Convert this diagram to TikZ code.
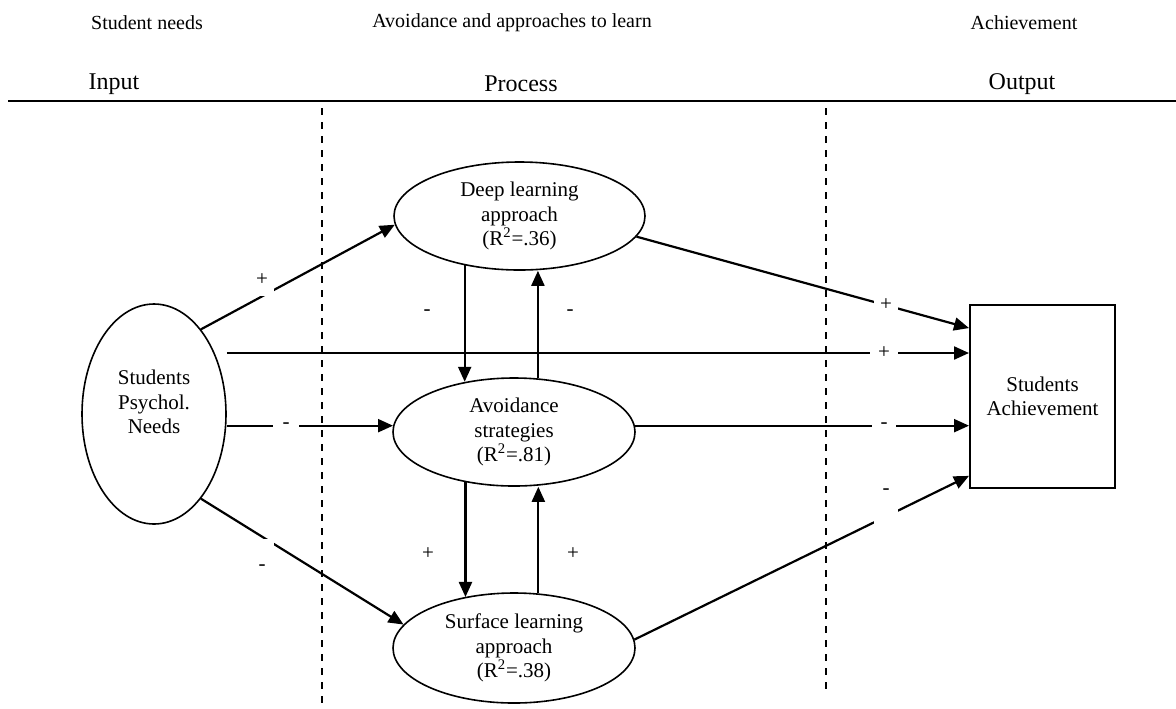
\documentclass[tikz,border=0pt]{standalone}
\usepackage{fontspec}
\setmainfont{Liberation Serif}
\usetikzlibrary{arrows.meta,positioning,calc,shapes.geometric}

\begin{document}
\begin{tikzpicture}[x=0.5pt,y=-0.5pt,
  conc/.style={ellipse,draw,line width=0.8pt,inner sep=0pt,align=center,font=\fontsize{10.5}{12.2}\selectfont},
  outbox/.style={rectangle,draw,line width=1pt,inner sep=0pt,align=center,font=\fontsize{10.5}{12.2}\selectfont,minimum width=72.5pt,minimum height=91.5pt},
  arr/.style={-{Triangle[length=7.5pt,width=6.5pt]},line width=1.1pt},
  sign/.style={fill=white,inner sep=1.5pt,minimum width=12pt,font=\fontsize{10.5}{12}\selectfont},
  head/.style={font=\fontsize{10}{12}\selectfont},
  stage/.style={font=\fontsize{12}{14}\selectfont},
  divider/.style={dash pattern=on 3.5pt off 3.5pt,line width=0.6pt}]
\useasboundingbox (0,0) rectangle (1176,708);
% column headings
\node[head] (hneeds) at (147,23) {Student needs};
\node[head] (hproc) at (512,23) {Avoidance and approaches to learn};
\node[head] (hach) at (1024,23) {Achievement};
\node[stage] (input) at (114,84) {Input};
\node[stage] (process) at (521,84) {Process};
\node[stage] (output) at (1022,84) {Output};
\draw[line width=1.2pt] (8,101) -- (1176,101);
\draw[divider] (322,108) -- (322,708);
\draw[divider] (826,108) -- (826,690);
% constructs
\node[conc,minimum width=72pt,minimum height=110pt] (needs) at (154,414) {Students\\Psychol.\\Needs\\~};
\node[conc,minimum width=125.5pt,minimum height=54pt] (deep) at (519.5,216) {Deep learning\\approach\\(R\textsuperscript{2}=.36)};
\node[conc,minimum width=121pt,minimum height=54pt] (avoid) at (514,432) {Avoidance\\strategies\\(R\textsuperscript{2}=.81)};
\node[conc,minimum width=121pt,minimum height=55pt] (surf) at (514,648) {Surface learning\\approach\\(R\textsuperscript{2}=.38)};
\node[outbox] (ach) at (1042.5,396.5) {Students\\Achievement};
\coordinate (a1) at ($(ach.north west)!0.13!(ach.south west)$);
\coordinate (a4) at ($(ach.north west)!0.929!(ach.south west)$);
\coordinate (pdirect) at ($(needs.east)+(0,-61)$);
% paths from needs
\draw[arr] (needs.61) -- (deep.184);
\draw[arr] (needs.-61) -- (surf.168);
\draw[arr] (needs.east |- avoid.177) -- (avoid.177);
\draw[arr] (pdirect) -- (pdirect -| ach.west);
% paths to achievement
\draw[arr] (deep.-10) -- (a1);
\draw[arr] (avoid.3) -- (avoid.3 -| ach.west);
\draw[arr] (surf.4) -- (a4);
% paths between approaches
\draw[arr] (deep.222) -- (deep.222 |- avoid.134);
\draw[arr] (avoid.66) -- (avoid.66 |- deep.south);
\draw[arr] (avoid.226) -- (avoid.226 |- surf.134);
\draw[arr] (surf.66) -- (surf.66 |- avoid.south);
% signs
\node[sign,minimum height=15.5pt] (sdeep) at (262,280) {+};
\node[sign,text height=14pt] (ssurf) at (262,556) {-};
\node[sign,minimum width=13pt] (savoid) at (286,426) {-};
\node[sign,minimum width=14pt] (sdirect) at (884,353) {+};
\node[sign] (sdeepach) at (886,305) {+};
\node[sign] (savoidach) at (884,426) {-};
\node[sign,text depth=13pt] (ssurfach) at (886,505) {-};
\node[sign] (sdown1) at (427,313) {-};
\node[sign] (sup1) at (570,313) {-};
\node[sign] (sdown2) at (428,554) {+};
\node[sign] (sup2) at (573,554) {+};
\end{tikzpicture}
\end{document}
